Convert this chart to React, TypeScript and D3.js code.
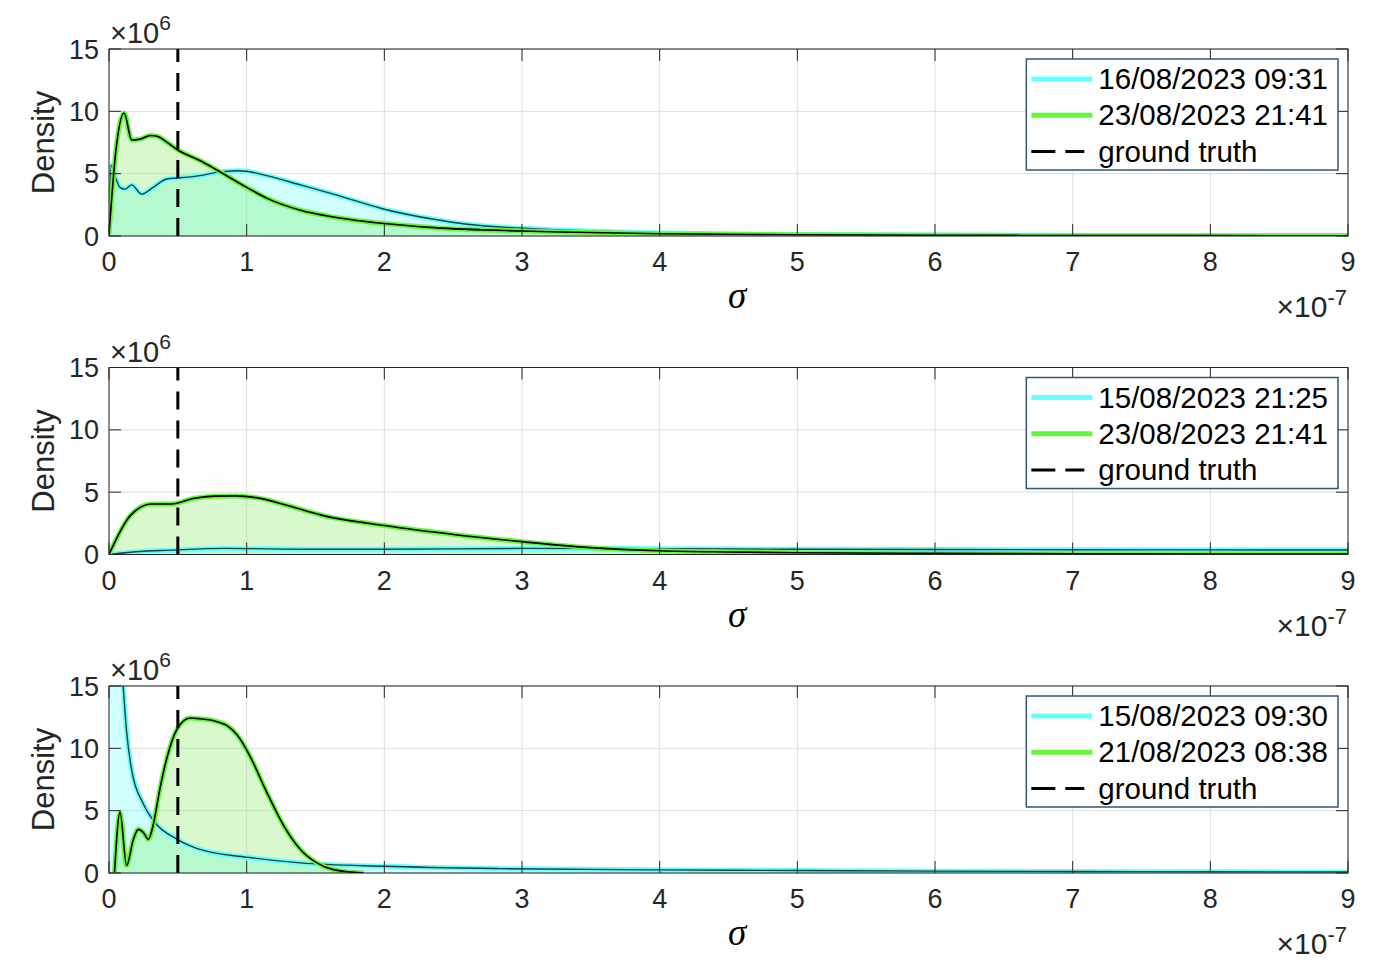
import React, { useEffect, useMemo } from 'react';
import * as d3 from 'd3';

// sigma in units of 1e-7, density in units of 1e6
type Pt = [number, number];

const X_TICKS = [0, 1, 2, 3, 4, 5, 6, 7, 8, 9];
const Y_TICKS = [0, 5, 10, 15];
const GROUND_TRUTH = 0.5;

const P1_CYAN: Pt[] = [
  [0, 0.2], [0.015, 5.65], [0.05, 4.6], [0.08, 3.9], [0.116, 3.76], [0.165, 4.1], [0.237, 3.36],
  [0.32, 3.9], [0.42, 4.57], [0.5, 4.65], [0.66, 4.84], [0.78, 5.1], [0.93, 5.24], [1.0, 5.19],
  [1.145, 4.84], [1.39, 4.1], [1.63, 3.36], [2.0, 2.15], [2.36, 1.34], [2.6, 0.94], [3.0, 0.62],
  [3.28, 0.48], [3.6, 0.36], [4.0, 0.25], [4.5, 0.17], [5.0, 0.12], [6.0, 0.08], [7.0, 0.05],
  [8.0, 0.03], [9.0, 0.02],
];
const P1_GREEN: Pt[] = [
  [0, 0.13], [0.05, 6.85], [0.11, 9.87], [0.165, 7.7], [0.225, 7.77], [0.3, 8.06], [0.35, 8.0],
  [0.42, 7.53], [0.5, 6.9], [0.66, 6.05], [0.77, 5.38], [1.0, 3.9], [1.145, 3.04], [1.39, 2.07],
  [1.63, 1.53], [2.0, 1.0], [2.36, 0.67], [3.0, 0.4], [3.28, 0.32], [4.0, 0.18], [5.0, 0.1],
  [6.0, 0.06], [7.0, 0.04], [8.0, 0.03], [9.0, 0.02],
];
const P2_CYAN: Pt[] = [
  [0, 0], [0.195, 0.22], [0.45, 0.35], [0.84, 0.49], [1.48, 0.42], [2.0, 0.42], [3.0, 0.49],
  [4.0, 0.46], [5.0, 0.42], [6.0, 0.4], [7.0, 0.38], [8.0, 0.37], [9.0, 0.36],
];
const P2_GREEN: Pt[] = [
  [0, 0], [0.156, 3.14], [0.31, 4.05], [0.455, 4.05], [0.61, 4.49], [0.766, 4.68], [0.92, 4.7],
  [1.08, 4.54], [1.29, 3.95], [1.55, 3.14], [2.0, 2.32], [2.53, 1.57], [3.0, 1.03], [3.44, 0.59],
  [4.0, 0.3], [4.5, 0.2], [5.0, 0.14], [6.0, 0.09], [7.0, 0.06], [8.0, 0.04], [9.0, 0.03],
];
const P3_CYAN: Pt[] = [
  [0.005, 60], [0.05, 25], [0.1, 15.5], [0.128, 11.35], [0.165, 8.24], [0.25, 5.54], [0.334, 4.05],
  [0.496, 2.7], [0.66, 1.89], [1.0, 1.27], [1.39, 0.81], [2.0, 0.54], [2.84, 0.35], [4.0, 0.25],
  [5.0, 0.2], [6.0, 0.15], [7.0, 0.12], [8.0, 0.1], [9.0, 0.08],
];
const P3_GREEN: Pt[] = [
  [0.04, 0.05], [0.08, 4.86], [0.128, 0.6], [0.177, 2.7], [0.213, 3.5], [0.25, 3.24], [0.286, 2.7],
  [0.322, 3.9], [0.37, 6.76], [0.42, 9.2], [0.496, 11.57], [0.59, 12.43], [0.66, 12.37],
  [0.78, 12.16], [0.855, 11.84], [0.93, 11.08], [1.02, 9.46], [1.145, 6.49], [1.27, 3.78],
  [1.39, 1.89], [1.51, 0.81], [1.63, 0.27], [1.85, 0.0],
];

const LEGEND_1 = ['16/08/2023 09:31', '23/08/2023 21:41', 'ground truth'];
const LEGEND_2 = ['15/08/2023 21:25', '23/08/2023 21:41', 'ground truth'];
const LEGEND_3 = ['15/08/2023 09:30', '21/08/2023 08:38', 'ground truth'];

const W = 1384;
const H = 978;
const LEFT = 109;
const RIGHT = 1348;
const PANEL_H = 187;
const PANEL_TOPS = [49, 367.5, 686];
const FONT = '"Liberation Sans", Arial, Helvetica, sans-serif';
const AXIS_COLOR = '#262626';
const CYAN = '#66ffff';
const GREEN = '#66f63c';
const LEGEND_FS = 29.5;
const TICK_FS = 27;

function textWidth(s: string, fs: number) {
  const ctx = document.createElement('canvas').getContext('2d');
  if (!ctx) return s.length * fs * 0.5;
  ctx.font = `${fs}px "Liberation Sans", Arial, sans-serif`;
  return ctx.measureText(s).width;
}

interface PanelProps {
  id: string;
  top: number;
  cyan: Pt[];
  green: Pt[];
  legend: string[];
}

function Panel({ id, top, cyan, green, legend }: PanelProps) {
  const bottom = top + PANEL_H;
  const x = d3.scaleLinear().domain([0, 9]).range([LEFT, RIGHT]);
  const y = d3.scaleLinear().domain([0, 15]).range([bottom, top]);

  const line = d3.line<Pt>().x((d) => x(d[0])).y((d) => y(d[1])).curve(d3.curveMonotoneX);
  const area = d3
    .area<Pt>()
    .x((d) => x(d[0]))
    .y0(y(0))
    .y1((d) => y(d[1]))
    .curve(d3.curveMonotoneX);

  const legendW = useMemo(
    () => Math.max(...legend.map((s) => textWidth(s, LEGEND_FS))) + 72 + 10,
    [legend]
  );
  const lgRight = 1338;
  const lgLeft = lgRight - legendW;
  const lgTop = top + 10;

  return (
    <g>
      <defs>
        <clipPath id={`clip-${id}`}>
          <rect x={LEFT} y={top} width={RIGHT - LEFT} height={PANEL_H} />
        </clipPath>
      </defs>

      {/* grid */}
      {X_TICKS.map((t) => (
        <line key={`gx${t}`} x1={x(t)} x2={x(t)} y1={top} y2={bottom} stroke="#dfdfdf" strokeWidth={1} />
      ))}
      {Y_TICKS.map((t) => (
        <line key={`gy${t}`} x1={LEFT} x2={RIGHT} y1={y(t)} y2={y(t)} stroke="#dfdfdf" strokeWidth={1} />
      ))}

      <g clipPath={`url(#clip-${id})`}>
        <path d={area(cyan) ?? ''} fill="rgb(0,255,255)" fillOpacity={0.18} />
        <path d={area(green) ?? ''} fill="rgb(100,230,60)" fillOpacity={0.25} />
        <path d={line(cyan) ?? ''} fill="none" stroke={CYAN} strokeWidth={5} strokeLinejoin="round" />
        <path d={line(cyan) ?? ''} fill="none" stroke="#1f3f3f" strokeWidth={1.4} strokeLinejoin="round" />
        <path d={line(green) ?? ''} fill="none" stroke={GREEN} strokeWidth={5} strokeLinejoin="round" />
        <path d={line(green) ?? ''} fill="none" stroke="#000" strokeWidth={1.6} strokeLinejoin="round" />
      </g>

      {/* ground truth, dashes laid out from the bottom up */}
      <line
        x1={x(GROUND_TRUTH)}
        x2={x(GROUND_TRUTH)}
        y1={bottom}
        y2={top}
        stroke="#000"
        strokeWidth={3}
        strokeDasharray="18 11"
      />

      {/* box + ticks */}
      <rect x={LEFT} y={top} width={RIGHT - LEFT} height={PANEL_H} fill="none" stroke={AXIS_COLOR} strokeWidth={1} />
      {X_TICKS.map((t) => (
        <g key={`tx${t}`}>
          <line x1={x(t)} x2={x(t)} y1={bottom} y2={bottom - 12} stroke={AXIS_COLOR} />
          <line x1={x(t)} x2={x(t)} y1={top} y2={top + 12} stroke={AXIS_COLOR} />
          <text
            x={x(t)}
            y={bottom + 35}
            textAnchor="middle"
            fontFamily={FONT}
            fontSize={TICK_FS}
            fill={AXIS_COLOR}
          >
            {t}
          </text>
        </g>
      ))}
      {Y_TICKS.map((t) => (
        <g key={`ty${t}`}>
          <line x1={LEFT} x2={LEFT + 12} y1={y(t)} y2={y(t)} stroke={AXIS_COLOR} />
          <line x1={RIGHT} x2={RIGHT - 12} y1={y(t)} y2={y(t)} stroke={AXIS_COLOR} />
          <text
            x={99}
            y={y(t) + 9.5}
            textAnchor="end"
            fontFamily={FONT}
            fontSize={TICK_FS}
            fill={AXIS_COLOR}
          >
            {t}
          </text>
        </g>
      ))}

      {/* exponents */}
      <text x={110} y={top - 6} fontFamily={FONT} fontSize={29} fill={AXIS_COLOR}>
        ×10
        <tspan fontSize={21} dy={-13}>6</tspan>
      </text>
      <text x={1347} y={bottom + 81} textAnchor="end" fontFamily={FONT} fontSize={30} fill={AXIS_COLOR}>
        ×10
        <tspan fontSize={22} dy={-12}>-7</tspan>
      </text>

      {/* axis labels */}
      <text
        transform={`translate(54,${(top + bottom) / 2}) rotate(-90)`}
        textAnchor="middle"
        fontFamily={FONT}
        fontSize={31}
        fill={AXIS_COLOR}
      >
        Density
      </text>
      <text
        x={737}
        y={bottom + 72}
        textAnchor="middle"
        fontFamily='"Liberation Serif", "Times New Roman", serif'
        fontStyle="italic"
        fontSize={37}
        fill="#000"
      >
        σ
      </text>

      {/* legend */}
      <rect x={lgLeft} y={lgTop} width={legendW} height={111} fill="#fff" stroke="#2f5676" strokeWidth={1.5} />
      {legend.map((label, i) => {
        const ly = lgTop + 20 + i * 36.3;
        return (
          <g key={label}>
            {i < 2 ? (
              <line
                x1={lgLeft + 5}
                x2={lgLeft + 66}
                y1={ly}
                y2={ly}
                stroke={i === 0 ? CYAN : GREEN}
                strokeWidth={5}
              />
            ) : (
              <line
                x1={lgLeft + 5}
                x2={lgLeft + 58}
                y1={ly}
                y2={ly}
                stroke="#000"
                strokeWidth={3}
                strokeDasharray="24 10"
              />
            )}
            <text x={lgLeft + 72} y={ly + 10} fontFamily={FONT} fontSize={LEGEND_FS} fill="#000">
              {label}
            </text>
          </g>
        );
      })}
    </g>
  );
}

export default function App() {
  useEffect(() => {
    document.body.style.margin = '0';
  }, []);
  return (
    <svg width={W} height={H} viewBox={`0 0 ${W} ${H}`} style={{ display: 'block', background: '#fff' }}>
      <rect width={W} height={H} fill="#fff" />
      <Panel id="p1" top={PANEL_TOPS[0]} cyan={P1_CYAN} green={P1_GREEN} legend={LEGEND_1} />
      <Panel id="p2" top={PANEL_TOPS[1]} cyan={P2_CYAN} green={P2_GREEN} legend={LEGEND_2} />
      <Panel id="p3" top={PANEL_TOPS[2]} cyan={P3_CYAN} green={P3_GREEN} legend={LEGEND_3} />
    </svg>
  );
}
